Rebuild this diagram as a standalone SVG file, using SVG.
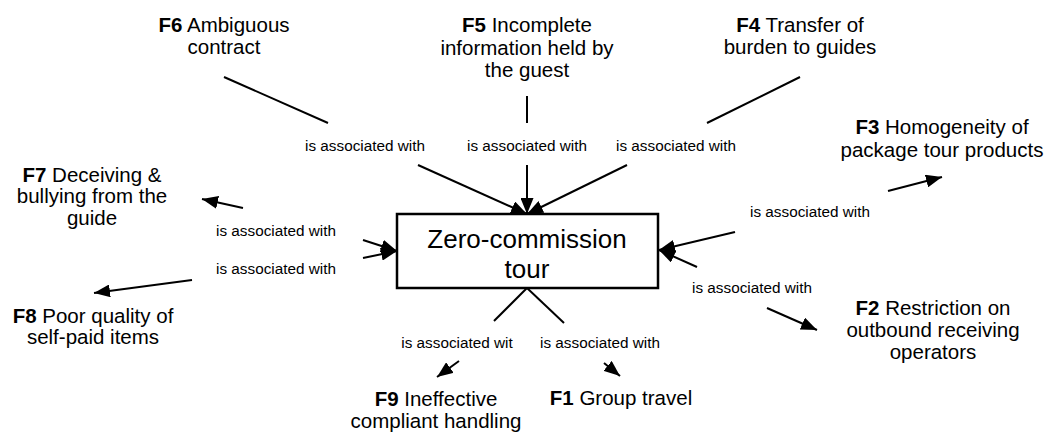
<svg xmlns="http://www.w3.org/2000/svg" width="1053" height="433" viewBox="0 0 1053 433">
  <style>
    .node { font-family: "Liberation Sans", Arial, sans-serif; font-size: 20.5px; fill: #000; text-anchor: middle; }
    .node .id { font-weight: bold; }
    .center { font-family: "Liberation Sans", Arial, sans-serif; font-size: 26px; fill: #000; text-anchor: middle; }
    .link { font-family: "Liberation Sans", Arial, sans-serif; font-size: 15.3px; fill: #000; text-anchor: middle; }
    .conn line { stroke: #000; stroke-width: 2; fill: none; }
    .conn .arrow { marker-end: url(#head); }
  </style>
  <defs>
    <marker id="head" markerUnits="userSpaceOnUse" markerWidth="16" markerHeight="13" refX="16" refY="6.5" orient="auto">
      <path d="M0,0 L16,6.5 L0,13 Z" fill="#000"/>
    </marker>
  </defs>
  <rect width="1053" height="433" fill="#fff"/>

  <!-- connectors: concept to linking phrase, linking phrase to concept -->
  <g id="connectors" class="conn">
    <line x1="224" y1="77" x2="328" y2="123"/>
    <line class="arrow" x1="418" y1="165" x2="527" y2="214"/>
    <line x1="527" y1="96" x2="527" y2="123"/>
    <line class="arrow" x1="527" y1="165" x2="527" y2="214"/>
    <line x1="800" y1="77" x2="707" y2="123"/>
    <line class="arrow" x1="627" y1="165" x2="527" y2="214"/>
    <line class="arrow" x1="735" y1="232" x2="659" y2="250"/>
    <line class="arrow" x1="888" y1="191" x2="942" y2="177"/>
    <line class="arrow" x1="697" y1="267" x2="659" y2="250"/>
    <line class="arrow" x1="767" y1="308" x2="817" y2="330"/>
    <line class="arrow" x1="363" y1="240" x2="397" y2="251"/>
    <line class="arrow" x1="243" y1="208" x2="202" y2="199"/>
    <line class="arrow" x1="363" y1="258" x2="397" y2="251"/>
    <line class="arrow" x1="192" y1="280" x2="94" y2="293"/>
    <line x1="527" y1="288" x2="494" y2="321"/>
    <line class="arrow" x1="459" y1="361" x2="437" y2="377"/>
    <line x1="527" y1="288" x2="564" y2="323"/>
    <line class="arrow" x1="604" y1="363" x2="620" y2="376"/>
  </g>

  <!-- linking phrases -->
  <g id="links">
    <text class="link" x="365" y="151">is associated with</text>
    <text class="link" x="527" y="151">is associated with</text>
    <text class="link" x="676" y="151">is associated with</text>
    <text class="link" x="810" y="217">is associated with</text>
    <text class="link" x="276" y="236">is associated with</text>
    <text class="link" x="276" y="274">is associated with</text>
    <text class="link" x="752" y="293">is associated with</text>
    <text class="link" x="457" y="348">is associated wit</text>
    <text class="link" x="600" y="348">is associated with</text>
  </g>

  <g id="zero-commission-tour">
    <rect x="397" y="214" width="261" height="74" fill="#fff" stroke="#000" stroke-width="2.5"/>
    <text class="center" x="527" y="248">Zero-commission</text>
    <text class="center" x="527" y="278">tour</text>
  </g>

  <g id="f1">
    <text class="node" x="621" y="405"><tspan class="id">F1</tspan> Group travel</text>
  </g>
  <g id="f2">
    <text class="node" x="933" y="315"><tspan class="id">F2</tspan> Restriction on</text>
    <text class="node" x="933" y="337">outbound receiving</text>
    <text class="node" x="933" y="359">operators</text>
  </g>
  <g id="f3">
    <text class="node" x="942" y="134"><tspan class="id">F3</tspan> Homogeneity of</text>
    <text class="node" x="942" y="157">package tour products</text>
  </g>
  <g id="f4">
    <text class="node" x="800" y="32"><tspan class="id">F4</tspan> Transfer of</text>
    <text class="node" x="800" y="54">burden to guides</text>
  </g>
  <g id="f5">
    <text class="node" x="527" y="32"><tspan class="id">F5</tspan> Incomplete</text>
    <text class="node" x="527" y="55">information held by</text>
    <text class="node" x="527" y="77">the guest</text>
  </g>
  <g id="f6">
    <text class="node" x="224" y="32"><tspan class="id">F6</tspan> Ambiguous</text>
    <text class="node" x="224" y="54">contract</text>
  </g>
  <g id="f7">
    <text class="node" x="92" y="182"><tspan class="id">F7</tspan> Deceiving &amp;</text>
    <text class="node" x="92" y="203">bullying from the</text>
    <text class="node" x="92" y="225">guide</text>
  </g>
  <g id="f8">
    <text class="node" x="93" y="323"><tspan class="id">F8</tspan> Poor quality of</text>
    <text class="node" x="93" y="344">self-paid items</text>
  </g>
  <g id="f9">
    <text class="node" x="436" y="406"><tspan class="id">F9</tspan> Ineffective</text>
    <text class="node" x="436" y="428">compliant handling</text>
  </g>
</svg>
